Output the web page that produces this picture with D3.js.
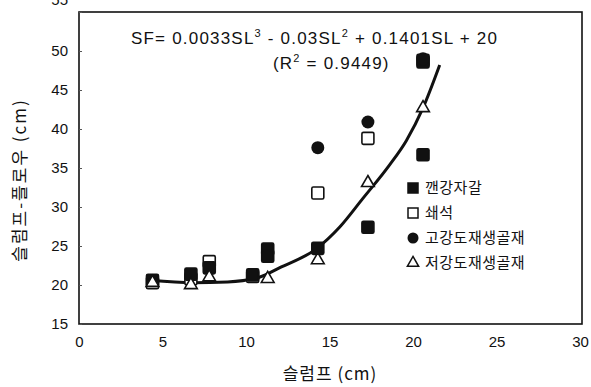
<!DOCTYPE html>
<html>
<head>
<meta charset="utf-8">
<script src="https://cdn.jsdelivr.net/npm/d3@7"></script>
<style>
  body { margin: 0; background: #fff; }
  svg { display: block; }
  .tick text { font-family: "Liberation Sans Narrow", "Liberation Sans", Arial, sans-serif; font-size: 15px; fill: #111; }
  .kr { font-family: "Noto Sans CJK KR", "Noto Sans", sans-serif; fill: #111; }
  .eq { font-family: "Liberation Sans Narrow", "Liberation Sans", Arial, sans-serif; font-size: 17px; fill: #111; }
</style>
</head>
<body>
<div id="chart"></div>
<script>
// values
const xTicks = [0, 5, 10, 15, 20, 25, 30];
const yTicks = [15, 20, 25, 30, 35, 40, 45, 50, 55];

const crushedGravel = [[4.4, 20.6], [6.7, 21.4], [7.8, 22.2], [10.4, 21.3], [11.3, 24.6], [11.3, 23.7],
  [14.3, 24.7], [17.3, 27.4], [20.6, 36.7], [20.6, 48.6]];
const crushedStone = [[4.4, 20.3], [6.7, 20.8], [7.8, 23.0], [10.4, 21.1], [14.3, 31.8], [17.3, 38.8], [20.6, 48.8]];
const highRecycled = [[14.3, 37.6], [17.3, 40.9], [20.6, 49.0]];
const lowRecycled = [[4.4, 20.3], [6.7, 20.0], [7.8, 21.0], [11.3, 20.8], [14.3, 23.2], [17.3, 33.1], [20.6, 42.7]];

// fitted curve as drawn in the figure
const fitCurve = [[4.25, 20.6], [6.8, 20.3], [8.9, 20.4], [10.8, 21.0], [12.0, 22.2], [14.25, 24.7],
  [15.6, 27.4], [17.0, 31.1], [18.6, 35.4], [19.6, 38.5], [20.6, 42.7], [21.6, 48.2]];

const legendLabels = ['깬강자갈', '쇄석', '고강도재생골재', '저강도재생골재'];

const W = 591, H = 387;
const margin = { top: 12, right: 11, bottom: 63, left: 79 };
const width = 580 - margin.left;
const height = 324 - margin.top;

const svg = d3.select('#chart').append('svg')
  .attr('width', W)
  .attr('height', H);

const g = svg.append('g')
  .attr('transform', `translate(${margin.left},${margin.top})`);

const x = d3.scaleLinear().domain([0, 30]).range([0, width]);
const y = d3.scaleLinear().domain([15, 55]).range([height, 0]);

// frame
g.append('rect')
  .attr('x', 0).attr('y', 0)
  .attr('width', 582 - margin.left).attr('height', height)
  .attr('fill', 'none')
  .attr('stroke', '#111')
  .attr('stroke-width', 1.6);

const yAxis = g.append('g')
  .call(d3.axisLeft(y).tickValues(yTicks).tickSize(-3).tickPadding(11).tickFormat(d3.format('d')));
yAxis.select('.domain').remove();
yAxis.selectAll('.tick line').attr('stroke', '#555');
// the top label is printed off-position and clipped in the scan
yAxis.selectAll('.tick').filter(d => d === 55).select('text').attr('dy', '-0.5em');

const xAxis = g.append('g')
  .attr('transform', `translate(0,${height})`)
  .call(d3.axisBottom(x).tickValues(xTicks).tickSize(0).tickPadding(12));
xAxis.select('.domain').remove();

// fit line
g.append('path')
  .datum(fitCurve)
  .attr('fill', 'none')
  .attr('stroke', '#111')
  .attr('stroke-width', 3)
  .attr('d', d3.line().x(d => x(d[0])).y(d => y(d[1])).curve(d3.curveMonotoneX));

const sq = 12;
function squares(data, filled) {
  g.selectAll(null).data(data).enter().append('rect')
    .attr('x', d => x(d[0]) - sq / 2)
    .attr('y', d => y(d[1]) - sq / 2)
    .attr('width', sq).attr('height', sq)
    .attr('rx', 1.5)
    .attr('fill', filled ? '#111' : '#fff')
    .attr('stroke', '#111')
    .attr('stroke-width', 1.6);
}
squares(crushedStone, false);
squares(crushedGravel, true);

g.selectAll('.hc').data(highRecycled).enter().append('circle')
  .attr('cx', d => x(d[0]))
  .attr('cy', d => y(d[1]))
  .attr('r', 6.5)
  .attr('fill', '#111');

const tri = d3.symbol().type(d3.symbolTriangle).size(70);
g.selectAll('.lt').data(lowRecycled).enter().append('path')
  .attr('transform', d => `translate(${x(d[0])},${y(d[1])})`)
  .attr('d', tri)
  .attr('fill', '#fff')
  .attr('stroke', '#111')
  .attr('stroke-width', 1.6);

// equation
const eq = svg.append('text').attr('class', 'eq').attr('x', 131).attr('y', 44)
  .attr('letter-spacing', '1.2px');
eq.append('tspan').text('SF= 0.0033SL');
eq.append('tspan').attr('dy', -7).attr('font-size', 11).text('3');
eq.append('tspan').attr('dy', 7).text('  -  0.03SL');
eq.append('tspan').attr('dy', -7).attr('font-size', 11).text('2');
eq.append('tspan').attr('dy', 7).text('  +  0.1401SL  +  20');

const r2 = svg.append('text').attr('class', 'eq').attr('x', 273).attr('y', 69)
  .attr('letter-spacing', '1.2px');
r2.append('tspan').text('(R');
r2.append('tspan').attr('dy', -7).attr('font-size', 11).text('2');
r2.append('tspan').attr('dy', 7).text('  =  0.9449)');

// legend
const legend = svg.append('g').attr('transform', 'translate(413,188)');
const rowH = 25;
legendLabels.forEach((label, i) => {
  const row = legend.append('g').attr('transform', `translate(0,${i * rowH})`);
  if (i === 0 || i === 1) {
    row.append('rect').attr('x', -5).attr('y', -5).attr('width', 10).attr('height', 10)
      .attr('fill', i === 0 ? '#111' : '#fff').attr('stroke', '#111').attr('stroke-width', 1.5);
  } else if (i === 2) {
    row.append('circle').attr('r', 5.5).attr('fill', '#111');
  } else {
    row.append('path').attr('d', d3.symbol().type(d3.symbolTriangle).size(55))
      .attr('fill', '#fff').attr('stroke', '#111').attr('stroke-width', 1.5);
  }
  row.append('text').attr('class', 'kr')
    .attr('x', 12).attr('y', 0).attr('dy', '0.36em')
    .attr('font-size', 15)
    .attr('letter-spacing', '0.5px')
    .text(label);
});

// axis titles
svg.append('text').attr('class', 'kr')
  .attr('x', 330).attr('y', 374)
  .attr('text-anchor', 'middle')
  .attr('font-size', 17)
  .attr('dy', '0.36em')
  .attr('letter-spacing', '1px')
  .text('슬럼프 (cm)');

svg.append('text').attr('class', 'kr')
  .attr('transform', 'translate(20,180) rotate(-90)')
  .attr('text-anchor', 'middle')
  .attr('dy', '0.36em')
  .attr('font-size', 17)
  .attr('letter-spacing', '2px')
  .text('슬럼프-플로우 (cm)');
</script>
</body>
</html>
